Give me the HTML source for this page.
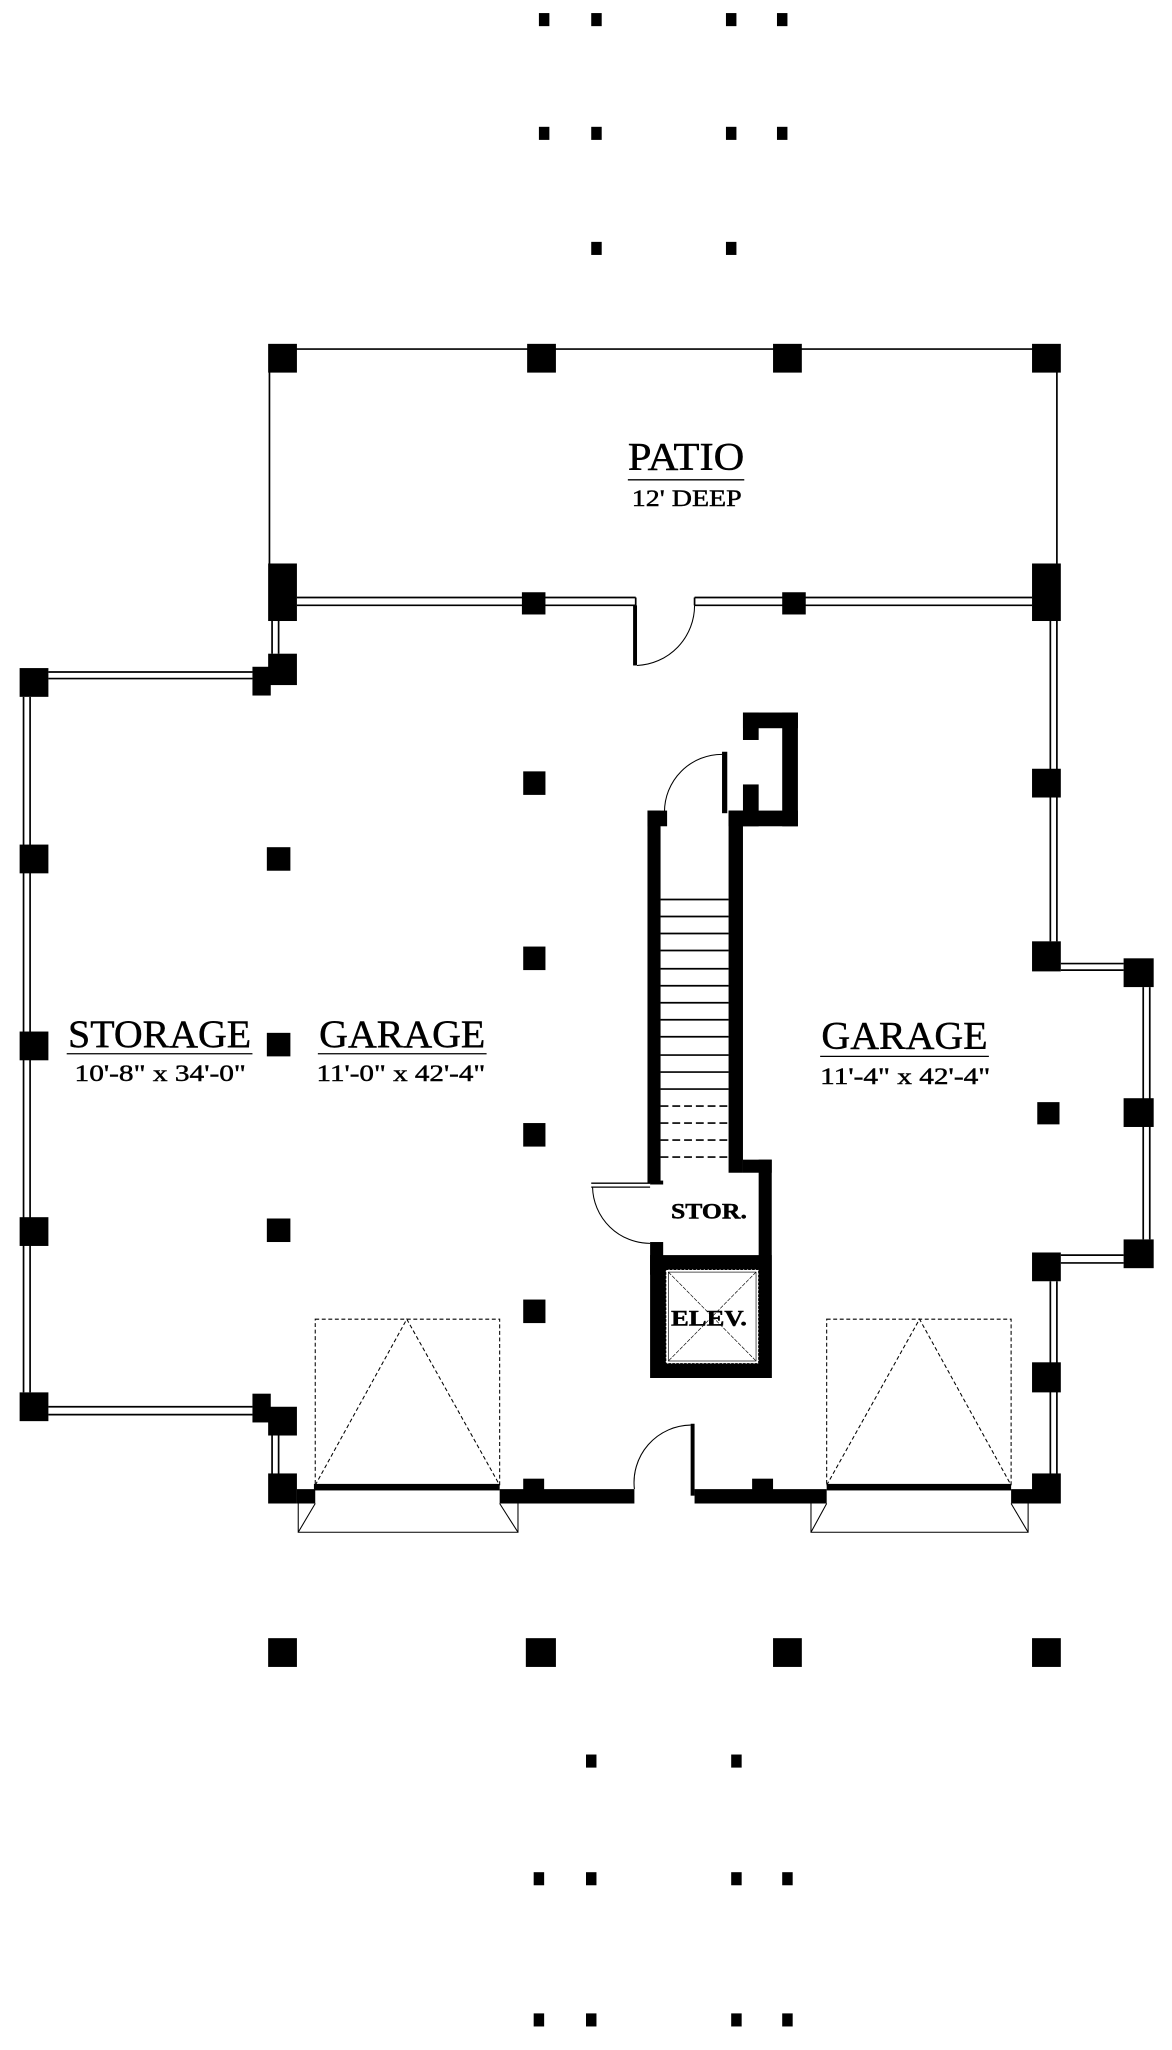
<!DOCTYPE html>
<html><head><meta charset="utf-8"><style>
html,body{margin:0;padding:0;background:#fff;}
svg{display:block;}
text{font-family:"Liberation Serif",serif;fill:#000;stroke:#000;stroke-width:0.35;}
</style></head><body>
<svg width="1172" height="2050" viewBox="0 0 896 1568" preserveAspectRatio="none" xmlns="http://www.w3.org/2000/svg">
<rect width="896" height="1568" fill="#fff"/>
<g fill="#000">
<rect x="412" y="10" width="8" height="10"/><rect x="452" y="10" width="8" height="10"/><rect x="555" y="10" width="8" height="10"/><rect x="594" y="10" width="8" height="10"/>
<rect x="412" y="97" width="8" height="10"/><rect x="452" y="97" width="8" height="10"/><rect x="555" y="97" width="8" height="10"/><rect x="594" y="97" width="8" height="10"/>
<rect x="452" y="185" width="8" height="10"/><rect x="555" y="185" width="8" height="10"/>
<rect x="205" y="263" width="22" height="22"/><rect x="403" y="263" width="22" height="22"/><rect x="591" y="263" width="22" height="22"/><rect x="789" y="263" width="22" height="22"/>
<rect x="205" y="431" width="22" height="44"/><rect x="789" y="431" width="22" height="44"/>
<rect x="399" y="453" width="18" height="17"/><rect x="598" y="453" width="18" height="17"/>
<rect x="205" y="500" width="22" height="24"/><rect x="193" y="510" width="14" height="22"/>
<rect x="15" y="511" width="22" height="22"/>
<rect x="15" y="646" width="22" height="22"/><rect x="15" y="789" width="22" height="22"/><rect x="15" y="931" width="22" height="22"/><rect x="15" y="1065" width="22" height="22"/>
<rect x="193" y="1066" width="14" height="22"/><rect x="205" y="1076" width="22" height="22"/>
<rect x="205" y="1127" width="22" height="23"/>
<rect x="204" y="648" width="18" height="18"/><rect x="204" y="790" width="18" height="18"/><rect x="204" y="932" width="18" height="18"/>
<rect x="400" y="590" width="17" height="18"/><rect x="400" y="724" width="17" height="18"/><rect x="400" y="859" width="17" height="18"/><rect x="400" y="994" width="17" height="18"/>
<rect x="793" y="843" width="17" height="17"/>
<rect x="789" y="588" width="22" height="22"/><rect x="789" y="720" width="22" height="23"/>
<rect x="859" y="733" width="23" height="22"/><rect x="859" y="840" width="23" height="22"/><rect x="859" y="948" width="23" height="22"/>
<rect x="789" y="958" width="22" height="22"/><rect x="789" y="1042" width="22" height="23"/>
<rect x="789" y="1127" width="22" height="23"/><rect x="773" y="1139" width="20" height="11"/>
<rect x="227" y="1139" width="14" height="11"/>
<rect x="382" y="1139" width="103" height="11"/><rect x="400" y="1131" width="16" height="10"/>
<rect x="531" y="1139" width="101" height="11"/><rect x="575" y="1131" width="16" height="10"/>
<rect x="240" y="1135" width="142" height="5"/><rect x="632" y="1135" width="141" height="5"/>
<rect x="528" y="1089" width="3" height="55"/>
<rect x="484" y="463" width="3" height="46"/>
<rect x="495" y="620" width="10" height="285"/><rect x="495" y="620" width="15" height="12"/>
<rect x="557" y="620" width="11" height="277"/><rect x="557" y="620" width="53" height="12"/>
<rect x="552" y="575" width="4" height="47"/>
<rect x="568" y="545" width="42" height="12"/><rect x="598" y="545" width="12" height="87"/>
<rect x="568" y="545" width="12" height="21"/><rect x="568" y="600" width="12" height="32"/>
<rect x="568" y="887" width="22" height="10"/><rect x="580" y="887" width="10" height="167"/>
<rect x="497" y="950" width="10" height="25"/>
<rect x="497" y="960" width="93" height="94"/>
<rect x="497" y="903" width="10" height="3"/>
<rect x="205" y="1253" width="22" height="22"/><rect x="402" y="1253" width="23" height="22"/><rect x="591" y="1253" width="22" height="22"/><rect x="789" y="1253" width="22" height="22"/>
<rect x="448" y="1342" width="8" height="10"/><rect x="559" y="1342" width="8" height="10"/>
<rect x="408" y="1432" width="8" height="10"/><rect x="448" y="1432" width="8" height="10"/><rect x="559" y="1432" width="8" height="10"/><rect x="598" y="1432" width="8" height="10"/>
<rect x="408" y="1540" width="8" height="10"/><rect x="448" y="1540" width="8" height="10"/><rect x="559" y="1540" width="8" height="10"/><rect x="598" y="1540" width="8" height="10"/>
</g>
<rect x="509" y="971" width="71" height="72" fill="#fff" stroke="#000" stroke-width="0.8" stroke-dasharray="2,1"/>
<rect x="511" y="973" width="67" height="68" fill="none" stroke="#000" stroke-width="0.5"/>
<path d="M511 973L578 1041M578 973L511 1041" stroke="#000" stroke-width="0.5" stroke-dasharray="3,1"/>
<g stroke="#000" fill="none" stroke-width="1.3">
<line x1="216" y1="267" x2="800" y2="267"/>
<line x1="206" y1="267" x2="206" y2="460"/><line x1="808" y1="267" x2="808" y2="460"/>
<path d="M227 457H486M227 463H486M531 457H789M531 463H789"/>
<path d="M486 457V463M531 457V463"/>
<path d="M208 475V500M213 475V500M208 1098V1127M213 1098V1127"/>
<path d="M37 514H193M37 519H193M37 1076H193M37 1082H193"/>
<path d="M18 533V1065M23 533V1065"/>
<path d="M803 475V720M808 475V720M803 980V1127M808 980V1127"/>
<path d="M811 737H859M811 742H859M811 960H859M811 966H859"/>
<path d="M874 755V948M879 755V948"/>
<path d="M505 688H557M505 701H557M505 714H557M505 727H557M505 741H557M505 754H557M505 767H557M505 780H557M505 793H557M505 807H557M505 820H557M505 833H557"/>
<path d="M505 846H557M505 859H557M505 872H557M505 885H557" stroke-dasharray="6,3"/>
<path d="M452 905H497M452 908H497" stroke-width="1"/>
</g>
<g stroke="#000" fill="none" stroke-width="0.8">
<path d="M531 463A46 46 0 0 1 487 509"/>
<path d="M552 577A44 44 0 0 0 508 621"/>
<path d="M528 1090A44 44 0 0 0 485 1139"/>
<path d="M453 908A44 44 0 0 0 497 951"/>
<g stroke-dasharray="3,2">
<rect x="241" y="1009" width="141" height="127"/><path d="M241 1136L311 1009L382 1136"/>
<rect x="632" y="1009" width="141" height="127"/><path d="M632 1136L703 1009L773 1136"/>
</g>
<path d="M228 1150V1172H396V1150M241 1150L228 1172M382 1150L396 1172"/>
<path d="M620 1150V1172H786V1150M632 1150L620 1172M773 1150L786 1172"/>
</g>
<g stroke="#000" stroke-width="1">
<line x1="480" y1="367" x2="569" y2="367"/>
<line x1="51" y1="806" x2="193" y2="806"/>
<line x1="243" y1="806" x2="372" y2="806"/>
<line x1="627" y1="808" x2="756" y2="808"/>
</g>
<text x="480" y="359" font-size="30" textLength="89" lengthAdjust="spacingAndGlyphs">PATIO</text>
<text x="483" y="387" font-size="18" textLength="84" lengthAdjust="spacingAndGlyphs">12' DEEP</text>
<text x="52" y="801" font-size="30" textLength="140" lengthAdjust="spacingAndGlyphs">STORAGE</text>
<text x="57" y="827" font-size="18" textLength="131" lengthAdjust="spacingAndGlyphs">10'-8" x 34'-0"</text>
<text x="244" y="801" font-size="30" textLength="127" lengthAdjust="spacingAndGlyphs">GARAGE</text>
<text x="242" y="827" font-size="18" textLength="129" lengthAdjust="spacingAndGlyphs">11'-0" x 42'-4"</text>
<text x="628" y="802" font-size="30" textLength="127" lengthAdjust="spacingAndGlyphs">GARAGE</text>
<text x="627" y="829" font-size="18" textLength="130" lengthAdjust="spacingAndGlyphs">11'-4" x 42'-4"</text>
<text x="513" y="932" font-size="17" font-weight="bold" textLength="58" lengthAdjust="spacingAndGlyphs">STOR.</text>
<text x="513" y="1014" font-size="17" font-weight="bold" textLength="58" lengthAdjust="spacingAndGlyphs">ELEV.</text>
</svg>
</body></html>
